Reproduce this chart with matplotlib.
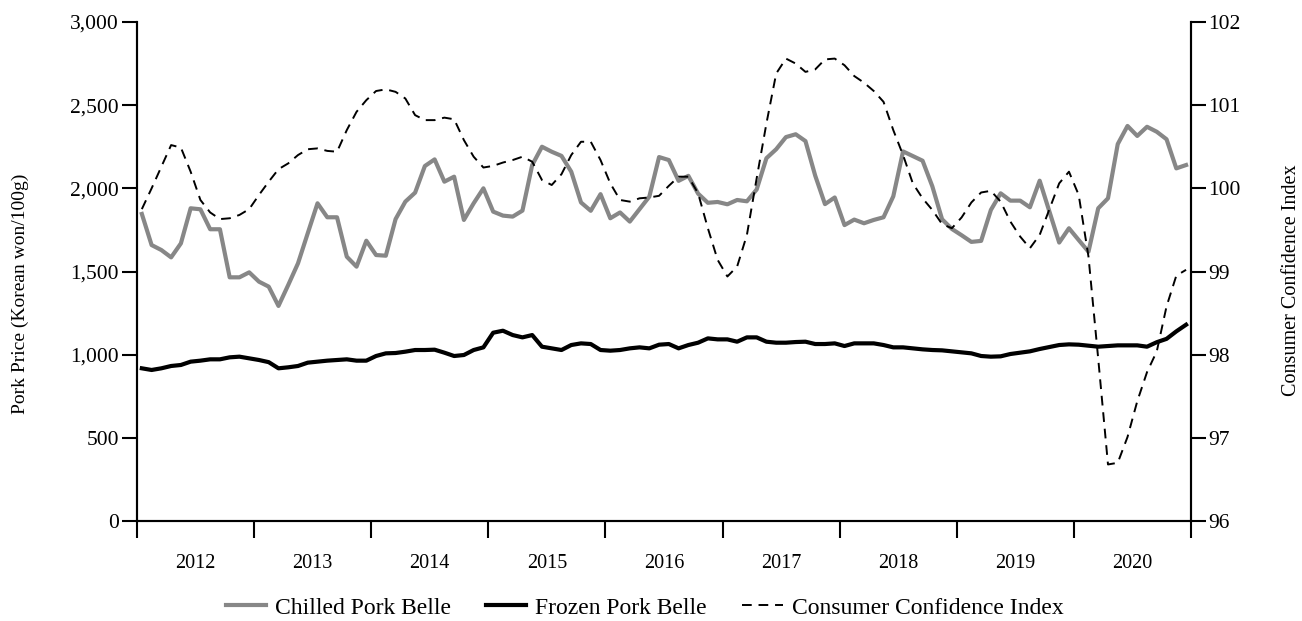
import numpy as np
import matplotlib
matplotlib.use('Agg')
import matplotlib.pyplot as plt
from matplotlib.ticker import FuncFormatter, FixedLocator

plt.rcParams['font.family'] = ['Liberation Serif', 'DejaVu Serif']
plt.rcParams['font.size'] = 15

# monthly series, Jan 2012 - Dec 2020
years = ['2012', '2013', '2014', '2015', '2016', '2017', '2018', '2019', '2020']

chilled = [1846, 1659, 1629, 1585, 1669, 1880, 1874, 1754, 1754, 1465, 1465, 1495,
           1439, 1409, 1293, 1419, 1549, 1730, 1910, 1826, 1826, 1589, 1529, 1685,
           1599, 1595, 1815, 1920, 1974, 2134, 2174, 2040, 2070, 1810, 1910, 2000,
           1860, 1836, 1830, 1866, 2140, 2250, 2220, 2195, 2100, 1915, 1865, 1965,
           1820, 1855, 1800, 1875, 1950, 2188, 2170, 2045, 2075, 1968, 1913, 1918,
           1904, 1930, 1922, 1993, 2181, 2235, 2308, 2325, 2284, 2076, 1905, 1945,
           1779, 1812, 1790, 1810, 1826, 1952, 2222, 2194, 2166, 2012, 1814, 1756,
           1718, 1678, 1684, 1870, 1970, 1926, 1926, 1886, 2046, 1860, 1674, 1760,
           1689, 1619, 1880, 1940, 2266, 2375, 2315, 2370, 2340, 2295, 2120, 2140]

frozen = [918, 908, 918, 932, 938, 958, 964, 972, 972, 984, 988, 978,
          968, 955, 918, 924, 932, 952, 958, 964, 968, 972, 964, 964,
          992, 1008, 1010, 1018, 1028, 1028, 1030, 1012, 992, 998, 1028, 1044,
          1132, 1144, 1118, 1104, 1118, 1048, 1038, 1028, 1058, 1068, 1064, 1028,
          1024, 1028, 1038, 1044, 1038, 1060, 1064, 1038, 1058, 1072, 1098, 1092,
          1092, 1078, 1104, 1104, 1078, 1072, 1072, 1076, 1078, 1064, 1064, 1068,
          1052, 1068, 1068, 1068, 1058, 1044, 1044, 1038, 1032, 1028, 1026, 1020,
          1014, 1008, 992, 988, 990, 1004, 1012, 1020, 1034, 1046, 1058, 1062,
          1060, 1054, 1048, 1052, 1056, 1056, 1056, 1048, 1075, 1095, 1140, 1180]

cci = [99.75, 100.00, 100.26, 100.52, 100.49, 100.20, 99.86, 99.71, 99.63, 99.64, 99.68, 99.75,
       99.92, 100.08, 100.23, 100.30, 100.40, 100.47, 100.48, 100.45, 100.44, 100.70, 100.92, 101.06,
       101.17, 101.19, 101.16, 101.08, 100.88, 100.82, 100.82, 100.85, 100.83, 100.58, 100.38, 100.25,
       100.27, 100.31, 100.34, 100.38, 100.32, 100.10, 100.04, 100.17, 100.40, 100.56, 100.56, 100.34,
       100.06, 99.86, 99.84, 99.88, 99.89, 99.91, 100.03, 100.14, 100.14, 99.94, 99.52, 99.14,
       98.94, 99.06, 99.44, 100.12, 100.78, 101.38, 101.56, 101.50, 101.40, 101.43, 101.55, 101.56,
       101.48, 101.35, 101.27, 101.17, 101.04, 100.70, 100.40, 100.06, 99.88, 99.74, 99.57, 99.52,
       99.65, 99.83, 99.95, 99.97, 99.84, 99.60, 99.42, 99.28, 99.44, 99.75, 100.06, 100.20,
       99.92, 99.18, 97.95, 96.68, 96.70, 97.01, 97.44, 97.79, 98.04, 98.58, 98.95, 99.02]

x = np.arange(len(chilled)) + 0.5

fig = plt.figure(figsize=(13.02, 6.21), dpi=100)
ax = fig.add_axes([0.1052, 0.161, 0.8095, 0.8036])
ax2 = ax.twinx()

l1, = ax.plot(x, chilled, color='#878787', lw=3.0, label='Chilled Pork Belle')
l2, = ax.plot(x, frozen, color='black', lw=3.0, label='Frozen Pork Belle')
l3, = ax2.plot(x, cci, color='black', lw=1.4, dashes=(5, 3.5),
               label='Consumer Confidence Index')

ax.set_xlim(0, 108)
ax.set_ylim(0, 3000)
ax2.set_ylim(96, 102)

ax.set_yticks(np.arange(0, 3001, 500))
ax.yaxis.set_major_formatter(FuncFormatter(lambda v, p: f'{int(v):,}'))
ax2.set_yticks(np.arange(96, 103, 1))

# year boundaries as ticks, year names centred between them
ax.xaxis.set_major_locator(FixedLocator(np.arange(0, 109, 12)))
ax.xaxis.set_minor_locator(FixedLocator(np.arange(6, 108, 12)))
ax.xaxis.set_major_formatter(plt.NullFormatter())
ax.set_xticklabels(years, minor=True, fontsize=14.5)
ax.tick_params(axis='x', which='minor', length=0, pad=24)
ax.tick_params(axis='x', which='major', length=12, width=1.5)
ax.tick_params(axis='y', length=11, width=1.5, pad=2, labelsize=15.5)
ax2.tick_params(axis='y', length=11, width=1.5, pad=1.5, labelsize=15.5)

for a in (ax, ax2):
    a.spines['top'].set_visible(False)
    for s in ('left', 'right', 'bottom'):
        a.spines[s].set_linewidth(1.5)

ax.set_ylabel('Pork Price (Korean won/100g)', fontsize=14)
ax2.set_ylabel('Consumer Confidence Index', fontsize=14.5)
ax.yaxis.set_label_coords(-0.1025, 0.455)
ax2.yaxis.set_label_coords(1.086, 0.483)

fig.legend(handles=[l1, l2, l3], loc='center', bbox_to_anchor=(0.495, 0.021),
           ncol=3, frameon=False, fontsize=17, handlelength=1.7,
           columnspacing=1.5, handletextpad=0.38)

fig.savefig('out.png', dpi=100)
